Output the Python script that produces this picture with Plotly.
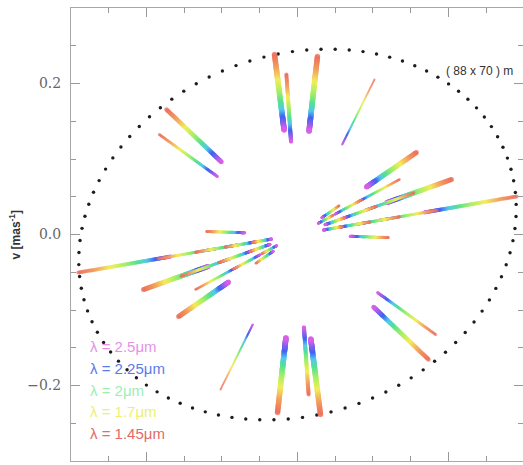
import numpy as np
import plotly.graph_objects as go

# ---------------- data ----------------
# projected baselines (metres); each is drawn at (u, v) and (-u, -v)
track_names = ["A", "B", "C", "D", "E", "F", "G", "H", "I", "J", "K",
               "H2", "H3", "H4", "H5", "G2", "G3", "G4", "F2", "F3", "E2"]
base_u_m = [-9.1, -4.4, 7.9, 30.5, 47.1, 40.4, 61.0, 86.8, 36.0, -51.9, -54.7,
            55.2, 40.4, 28.6, 17.7, 46.1, 31.1, 18.8, 25.5, 14.1, 16.5]
base_v_m = [71.3, 63.4, 70.5, 61.4, 32.5, 21.8, 21.8, 15.1, -1.2, 49.5, 39.6,
            9.6, 7.0, 5.0, 3.1, 16.5, 11.1, 6.7, 13.8, 7.6, 11.4]

# spectral channels (micron)
wavelengths_um = np.round(np.linspace(1.45, 2.5, 106), 4)

legend_labels = ["λ = 2.5μm", "λ = 2.25μm", "λ = 2μm", "λ = 1.7μm", "λ = 1.45μm"]

# aperture ellipse (semi-axes in m at 1.45 micron, position angle in degrees)
ellipse_axes_m = [88.5, 71.2]
ellipse_pa_deg = 20.0
ellipse_label = "( 88 x 70 ) m"

# ---------------- styles ----------------
track_width = [5.5, 4, 5.5, 2, 5, 2.5, 5, 4, 3, 4.5, 3,
               3, 3, 3, 3, 3, 3, 3, 2.5, 2.5, 2.5]
legend_colors = ["#e592e5", "#5a7ceb", "#9cefb4", "#eeef72", "#e46a6a"]
colorscale = [
    [0.00, "#ec6a5a"],
    [0.12, "#f29e5e"],
    [0.24, "#f2ee58"],
    [0.38, "#a4f066"],
    [0.52, "#55e096"],
    [0.64, "#55c8ee"],
    [0.76, "#4262ef"],
    [1.00, "#da5ee8"],
]

MAS = np.pi / (180 * 3600 * 1000)  # rad per mas

us, vs, cs, ss = [], [], [], []
for bu, bv, w in zip(base_u_m, base_v_m, track_width):
    for sgn in (1, -1):
        for lam in wavelengths_um:
            us.append(sgn * bu / (lam * 1e-6) * MAS)
            vs.append(sgn * bv / (lam * 1e-6) * MAS)
            cs.append(lam)
            ss.append(w)

fig = go.Figure()

# ellipse
t = np.linspace(0, 2 * np.pi, 97)[:-1]
a = ellipse_axes_m[0] / 1.45e-6 * MAS
b = ellipse_axes_m[1] / 1.45e-6 * MAS
phi = np.deg2rad(ellipse_pa_deg)
eu = a * np.cos(t) * np.cos(phi) - b * np.sin(t) * np.sin(phi)
ev = a * np.cos(t) * np.sin(phi) + b * np.sin(t) * np.cos(phi)
fig.add_trace(go.Scatter(x=eu, y=ev, mode="markers",
                         marker=dict(size=3.4, color="#1c1c1c"),
                         hoverinfo="skip", showlegend=False))

fig.add_trace(go.Scatter(
    x=us, y=vs, mode="markers",
    marker=dict(size=ss, color=cs, colorscale=colorscale,
                cmin=1.45, cmax=2.5, opacity=0.72, line=dict(width=0),
                showscale=False),
    hoverinfo="skip", showlegend=False))

# legend text
leg_v = [-0.148, -0.177, -0.206, -0.235, -0.264]
for txt, col, vv in zip(legend_labels, legend_colors, leg_v):
    fig.add_annotation(x=-0.2775, y=vv, xref="x", yref="y", text=txt,
                       showarrow=False, xanchor="left", yanchor="middle",
                       font=dict(family="Liberation Sans, Arial", size=15, color=col))

fig.add_annotation(x=0.194, y=0.216, xref="x", yref="y", text=ellipse_label,
                   showarrow=False, xanchor="left", yanchor="middle",
                   font=dict(family="Liberation Sans, Arial", size=12, color="#333"))

fig.add_annotation(x=-0.124, y=0.5, xref="paper", yref="paper",
                   text="<b>v [mas<sup>-1</sup>]</b>", textangle=-90, showarrow=False,
                   xanchor="center", yanchor="middle",
                   font=dict(family="Liberation Sans, Arial", size=12, color="#333"))

axis_common = dict(showgrid=False, zeroline=False, showline=True,
                   linecolor="#a8a8a8", linewidth=1, mirror="ticks",
                   ticks="inside", ticklen=9, tickcolor="#999", tickwidth=1,
                   minor=dict(dtick=0.05, ticks="inside", ticklen=5,
                              tickcolor="#999", tickwidth=1))

fig.update_xaxes(range=[-0.3, 0.2987], tick0=0, dtick=0.2,
                 showticklabels=False, **axis_common)
fig.update_yaxes(range=[-0.3, 0.3], tick0=0, dtick=0.2, tickformat=".1f",
                 tickfont=dict(family="DejaVu Serif", size=14, color="#666"),
                 ticklabelstandoff=6, **axis_common)

fig.update_layout(width=523, height=465,
                  margin=dict(l=71, r=0, t=8, b=4),
                  paper_bgcolor="white", plot_bgcolor="white")

fig.write_html("out.html", config={"displayModeBar": False, "staticPlot": True},
               post_script="document.body.style.margin='0';"
                           "document.body.style.overflow='hidden';")
